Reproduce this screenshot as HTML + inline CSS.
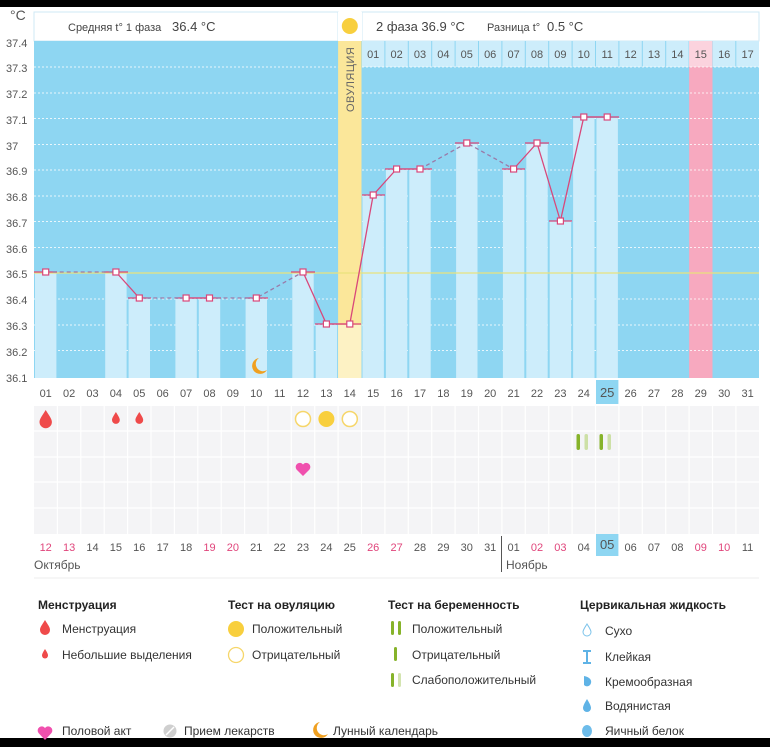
<!DOCTYPE html>
<html><head><meta charset="utf-8"><style>
html,body{margin:0;padding:0;background:#fff;}
svg{display:block;font-family:"Liberation Sans","DejaVu Sans",sans-serif;}
</style></head><body>
<svg width="770" height="747" viewBox="0 0 770 747" xmlns="http://www.w3.org/2000/svg">
<rect x="0" y="0" width="770" height="747" fill="#fff"/>
<rect x="0" y="0" width="770" height="7" fill="#000"/>
<rect x="0" y="738" width="770" height="9" fill="#000"/>

<!-- header -->
<rect x="34" y="12" width="304" height="29" fill="#fff" stroke="#cfe9f5"/>
<rect x="362" y="12" width="397" height="29" fill="#fff" stroke="#cfe9f5"/>
<rect x="338" y="12" width="24" height="29" fill="#fff"/>
<text x="68" y="31" font-size="11" fill="#444">Средняя t° 1 фаза</text>
<text x="172" y="31" font-size="13" fill="#444">36.4 °C</text>
<text x="376" y="31" font-size="13" fill="#444">2 фаза  36.9 °C</text>
<text x="487" y="31" font-size="11" fill="#444">Разница t°</text>
<text x="547" y="31" font-size="13" fill="#444">0.5 °C</text>
<text x="10" y="20" font-size="14" fill="#555">°C</text>

<!-- plot background -->
<rect x="34" y="41" width="725" height="337" fill="#8ed6f2"/>

<!-- top strip cols 15-31 -->
<g fill="#cdedfb">
<rect x="362" y="41" width="22.4" height="26"/><rect x="385.4" y="41" width="22.4" height="26"/><rect x="408.8" y="41" width="22.4" height="26"/><rect x="432.2" y="41" width="22.4" height="26"/><rect x="455.6" y="41" width="22.4" height="26"/><rect x="479" y="41" width="22.4" height="26"/><rect x="502.4" y="41" width="22.4" height="26"/><rect x="525.8" y="41" width="22.4" height="26"/><rect x="549.2" y="41" width="22.4" height="26"/><rect x="572.6" y="41" width="22.4" height="26"/><rect x="596" y="41" width="22.4" height="26"/><rect x="619.4" y="41" width="22.4" height="26"/><rect x="642.8" y="41" width="22.4" height="26"/><rect x="666.2" y="41" width="22.4" height="26"/><rect x="712.9" y="41" width="22.4" height="26"/><rect x="736.3" y="41" width="22.7" height="26"/>
</g>
<rect x="689.1" y="41" width="23.4" height="337" fill="#f7a9bf"/>
<rect x="689.1" y="41" width="23.4" height="26" fill="#fbd3de"/>

<!-- grid dotted -->
<g stroke="#ffffff" stroke-width="1" stroke-dasharray="2,2" opacity="0.8">
<line x1="34" y1="67" x2="759" y2="67"/><line x1="34" y1="93" x2="759" y2="93"/><line x1="34" y1="118.5" x2="759" y2="118.5"/><line x1="34" y1="144.5" x2="759" y2="144.5"/><line x1="34" y1="170" x2="759" y2="170"/><line x1="34" y1="196" x2="759" y2="196"/><line x1="34" y1="221.5" x2="759" y2="221.5"/><line x1="34" y1="247.5" x2="759" y2="247.5"/><line x1="34" y1="299" x2="759" y2="299"/><line x1="34" y1="325" x2="759" y2="325"/><line x1="34" y1="350.5" x2="759" y2="350.5"/>
</g>

<!-- bars -->
<g fill="#cdedfb">
<rect x="35" y="273" width="21.4" height="105"/>
<rect x="105.2" y="273" width="21.4" height="105"/>
<rect x="128.6" y="299" width="21.4" height="79"/>
<rect x="175.4" y="299" width="21.4" height="79"/>
<rect x="198.8" y="299" width="21.4" height="79"/>
<rect x="245.6" y="299" width="21.4" height="79"/>
<rect x="292.3" y="273" width="21.4" height="105"/>
<rect x="315.7" y="325" width="21.4" height="53"/>
<rect x="362.5" y="196" width="21.4" height="182"/>
<rect x="385.9" y="170" width="21.4" height="208"/>
<rect x="409.3" y="170" width="21.4" height="208"/>
<rect x="456.1" y="144" width="21.4" height="234"/>
<rect x="502.9" y="170" width="21.4" height="208"/>
<rect x="526.3" y="144" width="21.4" height="234"/>
<rect x="549.7" y="221" width="21.4" height="157"/>
<rect x="573.1" y="118" width="21.4" height="260"/>
<rect x="596.5" y="118" width="21.4" height="260"/>
</g>

<!-- ovulation column -->
<rect x="338.1" y="41" width="23.4" height="337" fill="#fbe79a"/>
<rect x="338.1" y="325" width="23.4" height="53" fill="#fdf2c4"/>
<circle cx="349.8" cy="26" r="8" fill="#f8cf3e"/>
<text transform="translate(354,112) rotate(-90)" font-size="11" fill="#666" letter-spacing="0.5">ОВУЛЯЦИЯ</text>

<!-- top strip numbers -->
<g font-size="11" fill="#555" text-anchor="middle">
<text x="373.2" y="58">01</text><text x="396.6" y="58">02</text><text x="420" y="58">03</text><text x="443.4" y="58">04</text><text x="466.8" y="58">05</text><text x="490.2" y="58">06</text><text x="513.6" y="58">07</text><text x="537" y="58">08</text><text x="560.4" y="58">09</text><text x="583.8" y="58">10</text><text x="607.2" y="58">11</text><text x="630.6" y="58">12</text><text x="654" y="58">13</text><text x="677.4" y="58">14</text><text x="700.8" y="58">15</text><text x="724.2" y="58">16</text><text x="747.6" y="58">17</text>
</g>

<!-- average line -->
<line x1="34" y1="273" x2="759" y2="273" stroke="#e9e27c" stroke-width="1.2"/>

<!-- marker ticks -->
<g stroke="#d9477a" stroke-width="1.2">
<line x1="34" y1="272" x2="57" y2="272"/><line x1="104" y1="272" x2="128" y2="272"/><line x1="128" y1="298" x2="151" y2="298"/><line x1="175" y1="298" x2="221" y2="298"/><line x1="245" y1="298" x2="268" y2="298"/><line x1="291" y1="272" x2="315" y2="272"/><line x1="315" y1="324" x2="361" y2="324"/><line x1="362" y1="195" x2="385" y2="195"/><line x1="385" y1="169" x2="432" y2="169"/><line x1="455" y1="143" x2="479" y2="143"/><line x1="502" y1="169" x2="525" y2="169"/><line x1="525" y1="143" x2="549" y2="143"/><line x1="549" y1="221" x2="572" y2="221"/><line x1="572" y1="117" x2="619" y2="117"/>
</g>
<g stroke="#9a7aa8" stroke-width="1.3" stroke-dasharray="4,3" fill="none">
<polyline points="45.7,272 115.9,272"/>
<polyline points="139.3,298 186.1,298"/>
<polyline points="209.5,298 256.3,298 303,272"/>
<polyline points="420,169 466.8,143 513.6,169"/>
</g>
<g stroke="#d9477a" stroke-width="1.3" fill="none">
<polyline points="115.9,272 139.3,298"/>
<polyline points="186.1,298 209.5,298"/>
<polyline points="303,272 326.4,324 349.8,324 373.2,195 396.6,169 420,169"/>
<polyline points="513.6,169 537,143 560.4,221 583.8,117 607.2,117"/>
</g>
<g fill="#fff" stroke="#d9477a" stroke-width="1.2">
<rect x="42.7" y="269" width="6" height="6"/><rect x="112.9" y="269" width="6" height="6"/><rect x="136.3" y="295" width="6" height="6"/><rect x="183.1" y="295" width="6" height="6"/><rect x="206.5" y="295" width="6" height="6"/><rect x="253.3" y="295" width="6" height="6"/><rect x="300" y="269" width="6" height="6"/><rect x="323.4" y="321" width="6" height="6"/><rect x="346.8" y="321" width="6" height="6"/><rect x="370.2" y="192" width="6" height="6"/><rect x="393.6" y="166" width="6" height="6"/><rect x="417" y="166" width="6" height="6"/><rect x="463.8" y="140" width="6" height="6"/><rect x="510.6" y="166" width="6" height="6"/><rect x="534" y="140" width="6" height="6"/><rect x="557.4" y="218" width="6" height="6"/><rect x="580.8" y="114" width="6" height="6"/><rect x="604.2" y="114" width="6" height="6"/>
</g>

<!-- moon -->
<path d="M259,358 a8,8 0 1 0 8,12 a6.5,6.5 0 0 1 -8,-12z" fill="#f0a020"/>

<!-- y labels -->
<g font-size="11" fill="#555">
<text x="6" y="47">37.4</text><text x="6" y="72">37.3</text><text x="6" y="98">37.2</text><text x="6" y="124">37.1</text><text x="6" y="150">37</text><text x="6" y="175">36.9</text><text x="6" y="201">36.8</text><text x="6" y="227">36.7</text><text x="6" y="253">36.6</text><text x="6" y="278">36.5</text><text x="6" y="304">36.4</text><text x="6" y="330">36.3</text><text x="6" y="356">36.2</text><text x="6" y="382">36.1</text>
</g>

<!-- day row -->
<rect x="596" y="380" width="22.4" height="24" fill="#8ed6f2"/>
<g font-size="11" fill="#555" text-anchor="middle">
<text x="45.7" y="397">01</text><text x="69.1" y="397">02</text><text x="92.5" y="397">03</text><text x="115.9" y="397">04</text><text x="139.3" y="397">05</text><text x="162.7" y="397">06</text><text x="186.1" y="397">07</text><text x="209.5" y="397">08</text><text x="232.9" y="397">09</text><text x="256.3" y="397">10</text><text x="279.7" y="397">11</text><text x="303" y="397">12</text><text x="326.4" y="397">13</text><text x="349.8" y="397">14</text><text x="373.2" y="397">15</text><text x="396.6" y="397">16</text><text x="420" y="397">17</text><text x="443.4" y="397">18</text><text x="466.8" y="397">19</text><text x="490.2" y="397">20</text><text x="513.6" y="397">21</text><text x="537" y="397">22</text><text x="560.4" y="397">23</text><text x="583.8" y="397">24</text><text x="607.2" y="397" font-size="13">25</text><text x="630.6" y="397">26</text><text x="654" y="397">27</text><text x="677.4" y="397">28</text><text x="700.8" y="397">29</text><text x="724.2" y="397">30</text><text x="747.6" y="397">31</text>
</g>

<!-- lower grid -->
<rect x="34" y="406" width="725" height="128" fill="#f4f4f6"/>
<g stroke="#fff" stroke-width="1.2">
<line x1="34" y1="431" x2="759" y2="431"/><line x1="34" y1="457" x2="759" y2="457"/><line x1="34" y1="482" x2="759" y2="482"/><line x1="34" y1="508" x2="759" y2="508"/>
<line x1="57.4" y1="406" x2="57.4" y2="534"/><line x1="80.8" y1="406" x2="80.8" y2="534"/><line x1="104.2" y1="406" x2="104.2" y2="534"/><line x1="127.6" y1="406" x2="127.6" y2="534"/><line x1="151" y1="406" x2="151" y2="534"/><line x1="174.4" y1="406" x2="174.4" y2="534"/><line x1="197.8" y1="406" x2="197.8" y2="534"/><line x1="221.2" y1="406" x2="221.2" y2="534"/><line x1="244.6" y1="406" x2="244.6" y2="534"/><line x1="268" y1="406" x2="268" y2="534"/><line x1="291.3" y1="406" x2="291.3" y2="534"/><line x1="314.7" y1="406" x2="314.7" y2="534"/><line x1="338.1" y1="406" x2="338.1" y2="534"/><line x1="361.5" y1="406" x2="361.5" y2="534"/><line x1="384.9" y1="406" x2="384.9" y2="534"/><line x1="408.3" y1="406" x2="408.3" y2="534"/><line x1="431.7" y1="406" x2="431.7" y2="534"/><line x1="455.1" y1="406" x2="455.1" y2="534"/><line x1="478.5" y1="406" x2="478.5" y2="534"/><line x1="501.9" y1="406" x2="501.9" y2="534"/><line x1="525.3" y1="406" x2="525.3" y2="534"/><line x1="548.7" y1="406" x2="548.7" y2="534"/><line x1="572.1" y1="406" x2="572.1" y2="534"/><line x1="595.5" y1="406" x2="595.5" y2="534"/><line x1="618.9" y1="406" x2="618.9" y2="534"/><line x1="642.3" y1="406" x2="642.3" y2="534"/><line x1="665.7" y1="406" x2="665.7" y2="534"/><line x1="689.1" y1="406" x2="689.1" y2="534"/><line x1="712.5" y1="406" x2="712.5" y2="534"/><line x1="735.9" y1="406" x2="735.9" y2="534"/>
</g>

<!-- menstruation drops -->
<path d="M45.7,410 C42,416 39.5,419 39.5,422 a6.2,6.2 0 0 0 12.4,0 C51.9,419 49.4,416 45.7,410z" fill="#ef4a4a"/>
<path d="M115.9,412 C113.5,416 112,418 112,420 a3.9,3.9 0 0 0 7.8,0 C119.8,418 118.3,416 115.9,412z" fill="#ef4a4a"/>
<path d="M139.3,412 C136.9,416 135.4,418 135.4,420 a3.9,3.9 0 0 0 7.8,0 C143.2,418 141.7,416 139.3,412z" fill="#ef4a4a"/>
<!-- ovulation tests -->
<circle cx="303" cy="419" r="7.5" fill="#fff" stroke="#f6d66a" stroke-width="1.5"/>
<circle cx="326.4" cy="419" r="8" fill="#f8cf3e"/>
<circle cx="349.8" cy="419" r="7.5" fill="#fff" stroke="#f6d66a" stroke-width="1.5"/>
<!-- pregnancy tests -->
<rect x="576.5" y="434" width="3.5" height="16" rx="1.7" fill="#86b32a"/>
<rect x="584.5" y="434" width="3.5" height="16" rx="1.7" fill="#cde0a6"/>
<rect x="599.5" y="434" width="3.5" height="16" rx="1.7" fill="#86b32a"/>
<rect x="607.5" y="434" width="3.5" height="16" rx="1.7" fill="#cde0a6"/>
<!-- heart -->
<path d="M303,476 L296.5,469.5 a3.8,3.8 0 0 1 6.5,-5 a3.8,3.8 0 0 1 6.5,5 z" fill="#f050ae"/>

<!-- bottom dates -->
<rect x="596" y="534" width="22.4" height="22" fill="#8ed6f2"/>
<g font-size="11" text-anchor="middle" fill="#555">
<text x="45.7" y="551" fill="#e0457b">12</text><text x="69.1" y="551" fill="#e0457b">13</text><text x="92.5" y="551">14</text><text x="115.9" y="551">15</text><text x="139.3" y="551">16</text><text x="162.7" y="551">17</text><text x="186.1" y="551">18</text><text x="209.5" y="551" fill="#e0457b">19</text><text x="232.9" y="551" fill="#e0457b">20</text><text x="256.3" y="551">21</text><text x="279.7" y="551">22</text><text x="303" y="551">23</text><text x="326.4" y="551">24</text><text x="349.8" y="551">25</text><text x="373.2" y="551" fill="#e0457b">26</text><text x="396.6" y="551" fill="#e0457b">27</text><text x="420" y="551">28</text><text x="443.4" y="551">29</text><text x="466.8" y="551">30</text><text x="490.2" y="551">31</text><text x="513.6" y="551">01</text><text x="537" y="551" fill="#e0457b">02</text><text x="560.4" y="551" fill="#e0457b">03</text><text x="583.8" y="551">04</text><text x="607.2" y="549" font-size="13">05</text><text x="630.6" y="551">06</text><text x="654" y="551">07</text><text x="677.4" y="551">08</text><text x="700.8" y="551" fill="#e0457b">09</text><text x="724.2" y="551" fill="#e0457b">10</text><text x="747.6" y="551">11</text>
</g>
<line x1="501.5" y1="536" x2="501.5" y2="572" stroke="#555" stroke-width="1"/>
<text x="34" y="569" font-size="12" fill="#555">Октябрь</text>
<text x="506" y="569" font-size="12" fill="#555">Ноябрь</text>
<line x1="34" y1="578" x2="759" y2="578" stroke="#eee"/>

<!-- legend -->
<g font-size="12" fill="#222" font-weight="bold">
<text x="38" y="609">Менструация</text>
<text x="228" y="609">Тест на овуляцию</text>
<text x="388" y="609">Тест на беременность</text>
<text x="580" y="609">Цервикальная жидкость</text>
</g>
<g font-size="12" fill="#333">
<text x="62" y="633">Менструация</text>
<text x="62" y="659">Небольшие выделения</text>
<text x="252" y="633">Положительный</text>
<text x="252" y="659">Отрицательный</text>
<text x="412" y="633">Положительный</text>
<text x="412" y="659">Отрицательный</text>
<text x="412" y="684">Слабоположительный</text>
<text x="605" y="635">Сухо</text>
<text x="605" y="661">Клейкая</text>
<text x="605" y="686">Кремообразная</text>
<text x="605" y="710">Водянистая</text>
<text x="605" y="735">Яичный белок</text>
<text x="62" y="735">Половой акт</text>
<text x="184" y="735">Прием лекарств</text>
<text x="333" y="735">Лунный календарь</text>
</g>
<path d="M45,620 C42,625 40,627 40,630 a5,5 0 0 0 10,0 C50,627 48,625 45,620z" fill="#ef4a4a"/>
<path d="M45,649 C43,652 42,654 42,655.5 a3,3 0 0 0 6,0 C48,654 47,652 45,649z" fill="#ef4a4a"/>
<circle cx="236" cy="629" r="8" fill="#f8cf3e"/>
<circle cx="236" cy="655" r="7.5" fill="#fff" stroke="#f6d66a" stroke-width="1.3"/>
<rect x="391" y="621" width="3" height="14" rx="1.5" fill="#86b32a"/><rect x="398" y="621" width="3" height="14" rx="1.5" fill="#86b32a"/>
<rect x="394" y="647" width="3" height="14" rx="1.5" fill="#86b32a"/>
<rect x="391" y="673" width="3" height="14" rx="1.5" fill="#86b32a"/><rect x="398" y="673" width="3" height="14" rx="1.5" fill="#d3e4b0"/>
<path d="M587,624 C584.5,628 583,630 583,632 a4,4 0 0 0 8,0 C591,630 589.5,628 587,624z" fill="#fff" stroke="#7cc3ea" stroke-width="1"/>
<path d="M583,651 h8 M583,663 h8 M587,651 v12" stroke="#5fb3e6" stroke-width="2"/>
<path d="M584,676 C590,677 593,681 590,685 a4,4 0 0 1 -6,0 z" fill="#5fb3e6"/>
<path d="M587,699 C584.5,703 583,706 583,708 a4,4 0 0 0 8,0 C591,706 589.5,703 587,699z" fill="#5fb3e6"/>
<ellipse cx="587" cy="731" rx="5" ry="6" fill="#6dbcea"/>
<path d="M45,740 L38.5,733 a3.8,3.8 0 0 1 6.5,-5 a3.8,3.8 0 0 1 6.5,5 z" fill="#f050ae"/>
<circle cx="170" cy="731" r="6.5" fill="#cfcfcf"/><line x1="166" y1="735" x2="174" y2="727" stroke="#fff" stroke-width="1.5"/>
<path d="M320,722 a8,8 0 1 0 8,12 a6.5,6.5 0 0 1 -8,-12z" fill="#f0a020"/>
</svg>
</body></html>
